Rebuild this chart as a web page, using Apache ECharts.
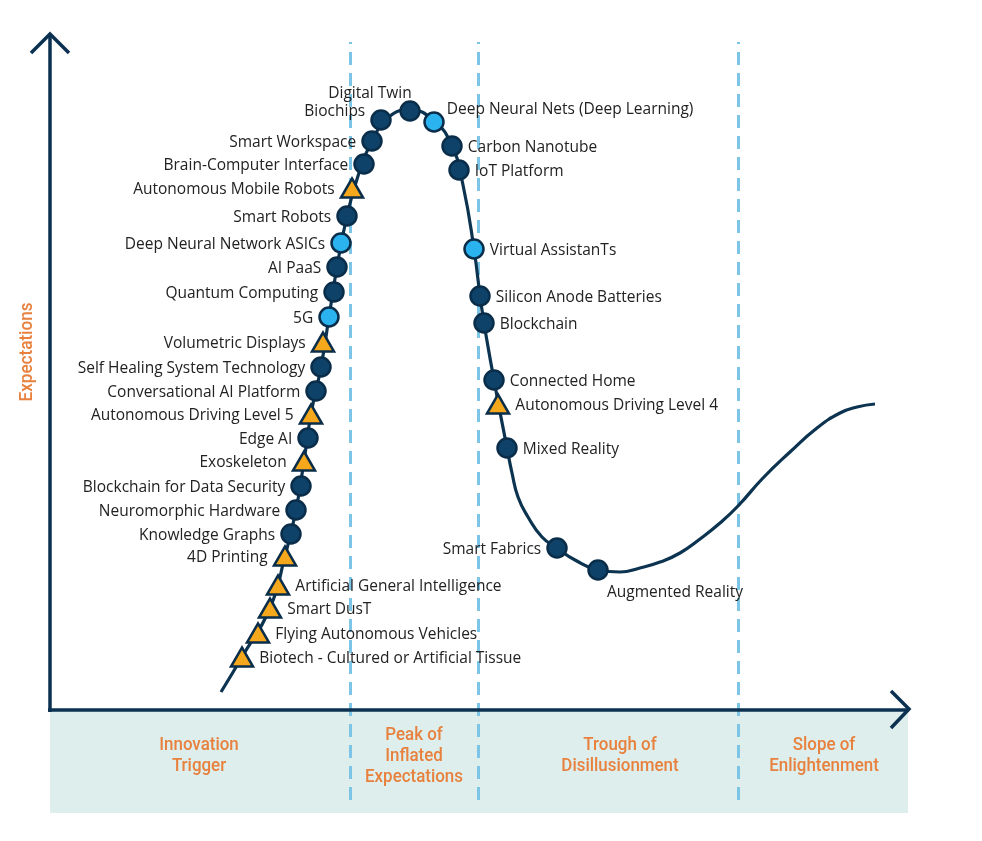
<!DOCTYPE html>
<html><head><meta charset="utf-8">
<script src="https://cdn.jsdelivr.net/npm/echarts@6/dist/echarts.min.js"></script>
<style>html,body{margin:0;padding:0;background:#fff}#c{width:982px;height:841px}</style>
</head><body><div id="c"></div>
<script>
// Hype curve (x: time, y: expectations)
const curveX = [171,192,220,235,246,254,261,271,279,287,297,308,322,340,360,384,402,413,424,432,444,457,462,468,478,492,507,525,548,570,590,610,630,650,670,688,713,740,767,790,807,825];
const curveY = [18,53,102,154,200,249,296,343,393,443,494,534,569,594,600,589,564,525,461,400,330,262,237,213,193,173,162,150,140,138,142,148,157,171,187,204,232,258,282,297,303,306];

const techNames = [
  'Biotech - Cultured or Artificial Tissue','Flying Autonomous Vehicles','Smart DusT','Artificial General Intelligence','4D Printing',
  'Knowledge Graphs','Neuromorphic Hardware','Blockchain for Data Security','Exoskeleton','Edge AI',
  'Autonomous Driving Level 5','Conversational AI Platform','Self Healing System Technology','Volumetric Displays','5G',
  'Quantum Computing','AI PaaS','Deep Neural Network ASICs','Smart Robots','Autonomous Mobile Robots',
  'Brain-Computer Interface','Smart Workspace','Biochips','Digital Twin','Deep Neural Nets (Deep Learning)',
  'Carbon Nanotube','IoT Platform','Virtual AssistanTs','Silicon Anode Batteries','Blockchain',
  'Connected Home','Autonomous Driving Level 4','Mixed Reality','Smart Fabrics','Augmented Reality'
];
const techX = [192,208,220,228,235, 241,246,251,254,258, 261,266,271,273,279, 284,287,291,297,302, 314,322,331,360,384, 402,409,424,430,434, 444,448,457,507,548];
const techY = [53,77,102,125,154, 176,200,224,249,272, 296,319,343,368,393, 418,443,467,494,522, 546,569,590,599,588, 564,540,461,414,387, 330,306,262,162,140];
const techKind = ['tri','tri','tri','tri','tri', 'dark','dark','dark','tri','dark', 'tri','dark','dark','tri','light', 'dark','dark','light','dark','tri', 'dark','dark','dark','dark','light', 'dark','dark','light','dark','dark', 'dark','tri','dark','dark','dark'];
const labelSide = ['right','right','right','right','left', 'left','left','left','left','left', 'left','left','left','left','left', 'left','left','left','left','left', 'left','left','left','top','right', 'right','right','right','right','right', 'right','right','right','left','bottom'];

const phaseNames = ['Innovation\nTrigger','Peak of\nInflated\nExpectations','Trough of\nDisillusionment','Slope of\nEnlightenment'];
const phaseCenters = [149,364,570,774];
const phaseDividers = [300,428,688];
const yAxisTitle = 'Expectations';

const NAVY = '#0b3050';
const ORANGE = '#e8813d';
const FONT = "'Open Sans', sans-serif";

const labelOffsets = { 'Biochips':[0,-8], 'Digital Twin':[-40,6], 'Deep Neural Nets (Deep Learning)':[-3,-12], 'Augmented Reality':[77,-1] };
const kindStyle = {
  dark:  { symbol:'circle', size:19, color:'#0e4268' },
  light: { symbol:'circle', size:19, color:'#2bb3f0' },
  tri:   { symbol:'triangle', size:[22,19], color:'#f5a81c' }
};

const markerData = techNames.map((n, i) => {
  const k = kindStyle[techKind[i]];
  return {
    name: n,
    value: [techX[i], techY[i]],
    symbol: k.symbol,
    symbolSize: k.size,
    itemStyle: { color: k.color, borderColor: '#0a2d4a', borderWidth: 2.5, opacity: 1 },
    label: { show: true, position: labelSide[i], distance: 5, offset: labelOffsets[n] || [0,1.5] }
  };
});

const chart = echarts.init(document.getElementById('c'), null, { renderer: 'canvas' });
const option = {
  backgroundColor: '#ffffff',
  animation: false,
  grid: { left: 50, right: 72, top: 33, bottom: 41 },
  xAxis: { type: 'value', min: 0, max: 860, show: false },
  yAxis: { type: 'value', min: -90, max: 677, show: false },
  series: [
    {
      type: 'line',
      data: [],
      z: 1,
      silent: true,
      markLine: {
        z: 1,
        silent: true,
        symbol: ['none','none'],
        label: { show: false },
        lineStyle: { color: '#7cc5e6', width: 3, type: [13,8] },
        data: phaseDividers.map(v => [{ coord: [v, -90] }, { coord: [v, 668] }])
      }
    },
    {
      type: 'line',
      data: curveX.map((x, i) => [x, curveY[i]]),
      smooth: 0.5,
      symbol: 'none',
      lineStyle: { color: '#0c3350', width: 3.2 },
      z: 6,
      silent: true
    },
    {
      type: 'scatter',
      data: markerData,
      z: 8,
      itemStyle: { opacity: 1 },
      label: { color: '#222222', fontSize: 15.5, fontFamily: FONT, formatter: p => p.name }
    }
  ]
};
chart.setOption(option);

const px = (x, y) => chart.convertToPixel({ gridIndex: 0 }, [x, y]);
const origin = px(0, 0);
const topPt = px(0, 677);
const rightPt = px(860, 0);
const bandBottom = px(0, -103)[1];
const bandRight = px(858, 0)[0];

const graphics = [
  { type: 'rect', z: 0, shape: { x: origin[0], y: origin[1] + 1, width: bandRight - origin[0], height: bandBottom - origin[1] - 1 }, style: { fill: '#ddeeed' } },
  { type: 'polyline', z: 10, shape: { points: [[origin[0], origin[1] + 2], [topPt[0], topPt[1] + 1]] }, style: { stroke: NAVY, lineWidth: 3.5, fill: null } },
  { type: 'polyline', z: 10, shape: { points: [[topPt[0] - 19, topPt[1] + 20], [topPt[0], topPt[1] + 1], [topPt[0] + 19, topPt[1] + 20]] }, style: { stroke: NAVY, lineWidth: 3.5, fill: null } },
  { type: 'polyline', z: 10, shape: { points: [[origin[0] - 2, origin[1]], [rightPt[0] - 1, rightPt[1]]] }, style: { stroke: NAVY, lineWidth: 3.5, fill: null } },
  { type: 'polyline', z: 10, shape: { points: [[rightPt[0] - 19, rightPt[1] - 19], [rightPt[0] - 1, rightPt[1] - 1], [rightPt[0] - 19, rightPt[1] + 18]] }, style: { stroke: NAVY, lineWidth: 3.5, fill: null } },
  { type: 'text', z: 10, x: 27, y: px(0, 358)[1], rotation: Math.PI / 2, scaleX: 0.95, style: { text: yAxisTitle, fill: ORANGE, font: "500 18px 'Roboto', sans-serif", align: 'center', verticalAlign: 'middle' } }
];
phaseNames.forEach((t, i) => {
  const c = px(phaseCenters[i], -46);
  graphics.push({ type: 'text', z: 10, x: c[0], y: c[1], scaleX: 0.94, style: { text: t, fill: ORANGE, font: "500 18px 'Roboto', sans-serif", lineHeight: 21, align: 'center', verticalAlign: 'middle' } });
});
chart.setOption({ graphic: graphics });
</script>
</body></html>
